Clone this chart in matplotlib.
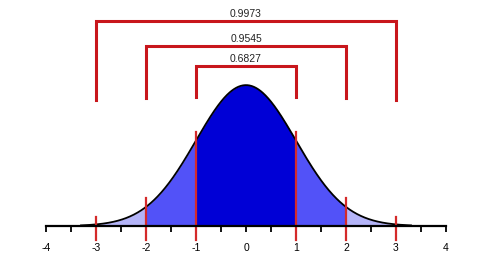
"""
standard normal curve with the 68-95-99.7 rule
"""

import numpy as np
import matplotlib.pyplot as plt

plt.rcParams['font.family'] = ['Liberation Sans', 'DejaVu Sans']
plt.rcParams['axes.unicode_minus'] = False

# sigma bands and their probabilities
sigmas = [1, 2, 3]
probabilities = ['0.6827', '0.9545', '0.9973']
bracket_tops = [0.453, 0.510, 0.581]
bracket_bottoms = [0.366, 0.363, 0.358]
marker_tops = [0.266, 0.079, 0.025]
band_colors = ['#0000d6', '#5252f8', '#b4b4f8']

tick_values = [-4, -3, -2, -1, 0, 1, 2, 3, 4]
minor_ticks = [-3.5, -2.5, -1.5, -0.5, 0.5, 1.5, 2.5, 3.5]

x_min, x_max = -3.3, 3.3

fig = plt.figure(figsize=(4.86, 2.68), dpi=100)
ax = fig.add_axes([0, 0, 1, 1])
ax.set_xlim(-4.92, 4.80)
ax.set_ylim(-0.119, 0.640)

x = np.linspace(x_min, x_max, 600)
pdf = np.exp(-x ** 2 / 2) / np.sqrt(2 * np.pi)

# fill bands from the outside in
for s, color in zip(sigmas[::-1], band_colors[::-1]):
    lim = s if s < 3 else x_max
    mask = (x >= -lim) & (x <= lim)
    ax.fill_between(x[mask], 0, pdf[mask], color=color, lw=0)

ax.plot(x, pdf, color='black', lw=1.3)

# red markers on the curve
for s, top in zip(sigmas, marker_tops):
    for sign in (-1, 1):
        ax.plot([sign * s, sign * s], [-0.04, top], color='#d42a2a', lw=1.6)

# brackets with probability labels
for s, top, bottom, p in zip(sigmas, bracket_tops, bracket_bottoms, probabilities):
    ax.plot([-s, -s, s, s], [bottom, top, top, bottom], color='#c8161c', lw=2.2,
            solid_joinstyle='miter')
    ax.text(0, top + 0.006, p, ha='center', va='bottom', fontsize=7.5, color='#222222')

# axis
ax.spines[['left', 'right', 'top']].set_visible(False)
ax.spines['bottom'].set_position(('data', 0))
ax.spines['bottom'].set_bounds(-4, 4)
ax.spines['bottom'].set_linewidth(1.6)
ax.set_xticks(tick_values)
ax.set_xticks(minor_ticks, minor=True)
ax.set_xticklabels([str(t) for t in tick_values])
ax.tick_params(axis='x', which='both', direction='out', length=4, width=1.3,
               labelsize=7.5, pad=8, colors='black')
ax.set_yticks([])
ax.patch.set_visible(False)

plt.savefig('out.png', dpi=100)
